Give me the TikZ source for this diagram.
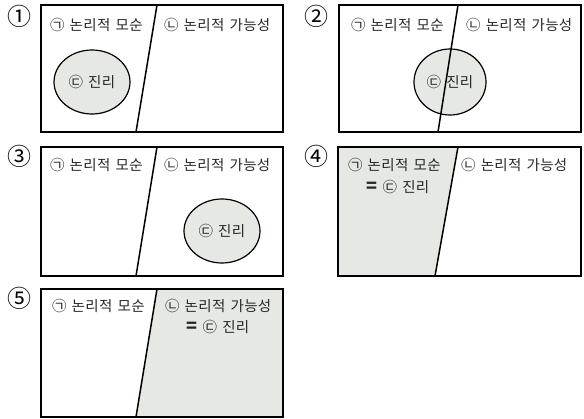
\documentclass[tikz,border=0pt]{standalone}
\usepackage{fontspec}
\newfontfamily\kr{Noto Sans CJK KR}[WordSpace=1.4,LetterSpace=2.5]
\newfontfamily\krnum{Noto Sans CJK KR}[Scale=1]
\usetikzlibrary{shapes.geometric}
\definecolor{shade}{RGB}{230,232,227}
\tikzset{
  frame/.style={draw=black, line width=1.5pt},
  divider/.style={draw=black, line width=1.5pt},
  shaded/.style={fill=shade},
  truth/.style={draw=black, line width=1.2pt, fill=shade},
  lbl/.style={font=\kr\fontsize{14.5}{17}\selectfont, inner sep=0pt, anchor=west, text=black!85},
  ctr/.style={font=\kr\fontsize{14.5}{17}\selectfont, inner sep=0pt, text=black!85},
  num/.style={font=\krnum\fontsize{24}{26}\selectfont, inner sep=0pt}
}
\newcommand{\eqsign}{{\krnum\bfseries\fontsize{18}{15}\selectfont =}}
\begin{document}
\begin{tikzpicture}[x=1pt,y=-1pt]
\useasboundingbox (0,0) rectangle (584,419);
% ---------- Panel 1 ----------
\node[num] (n1) at (19,16) {①};
\draw[frame] (41,5) rectangle (283,132);
\draw[truth] (92,82) ellipse [x radius=38, y radius=32];
\draw[divider] (157,5) -- (136,132);
\node[lbl] (a1) at (50,25) {㉠ 논리적 모순};
\node[lbl] (b1) at (164,25) {㉡ 논리적 가능성};
\node[ctr] (c1) at (92,82) {㉢ 진리};
% ---------- Panel 2 ----------
\node[num] (n2) at (316,16) {②};
\draw[frame] (339,5) rectangle (581,132);
\draw[truth] (450,82) ellipse [x radius=36, y radius=33];
\draw[divider] (458,5) -- (438,132);
\node[lbl] (a2) at (351,25) {㉠ 논리적 모순};
\node[lbl] (b2) at (466,25) {㉡ 논리적 가능성};
\node[ctr] (c2) at (450,82) {㉢ 진리};
% ---------- Panel 3 ----------
\node[num] (n3) at (19,156) {③};
\draw[frame] (41,147) rectangle (283,276);
\draw[truth] (222,231) ellipse [x radius=38, y radius=32];
\draw[divider] (157,147) -- (136,276);
\node[lbl] (a3) at (50,165) {㉠ 논리적 모순};
\node[lbl] (b3) at (164,165) {㉡ 논리적 가능성};
\node[ctr] (c3) at (222,231) {㉢ 진리};
% ---------- Panel 4 ----------
\node[num] (n4) at (316,156) {④};
\fill[shaded] (338,147) -- (458,147) -- (435,276) -- (338,276) -- cycle;
\draw[frame] (338,147) rectangle (581,276);
\draw[divider] (458,147) -- (435,276);
\node[lbl] (a4) at (348,165) {㉠ 논리적 모순};
\node[lbl] (b4) at (461,165) {㉡ 논리적 가능성};
\node[ctr] (c4) at (398,187) {\eqsign\ ㉢ 진리};
% ---------- Panel 5 ----------
\node[num] (n5) at (19,298) {⑤};
\fill[shaded] (157,289) -- (283,289) -- (283,417) -- (136,417) -- cycle;
\draw[frame] (41,289) rectangle (283,417);
\draw[divider] (157,289) -- (136,417);
\node[lbl] (a5) at (52,306) {㉠ 논리적 모순};
\node[lbl] (b5) at (165,306) {㉡ 논리적 가능성};
\node[ctr] (c5) at (218,327) {\eqsign\ ㉢ 진리};
\end{tikzpicture}
\end{document}
